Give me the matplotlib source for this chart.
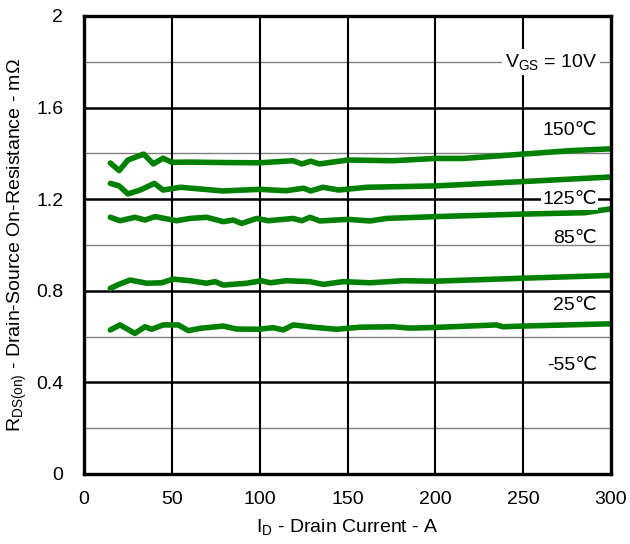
import matplotlib
matplotlib.use("Agg")
import matplotlib.pyplot as plt

plt.rcParams['font.family'] = ['Liberation Sans', 'DejaVu Sans']
plt.rcParams['mathtext.default'] = 'regular'

# Data (I_D in A, R_DS(on) in mOhm)
x_150 = [15, 20, 25, 34, 39.5, 45, 50, 60, 80, 100, 119, 124, 129, 134, 150, 176, 200, 216, 250, 277, 300]
y_150 = [1.358, 1.325, 1.371, 1.397, 1.354, 1.379, 1.361, 1.362, 1.360, 1.359, 1.368, 1.354, 1.366, 1.354, 1.371, 1.368, 1.378, 1.378, 1.397, 1.412, 1.420]

x_125 = [15, 20, 25, 32, 40, 45, 55, 79, 100, 115, 125, 129, 136, 145, 161, 200, 250, 300]
y_125 = [1.269, 1.258, 1.223, 1.240, 1.269, 1.240, 1.252, 1.236, 1.243, 1.237, 1.248, 1.236, 1.252, 1.240, 1.252, 1.258, 1.277, 1.297]

x_85 = [15, 20.5, 29, 34.7, 40.4, 52.7, 60.3, 69.8, 79.3, 85, 89.7, 98.3, 105, 119, 124, 128.6, 134.3, 150.4, 162.8, 172.2, 200, 250, 285, 300]
y_85 = [1.121, 1.106, 1.121, 1.109, 1.124, 1.106, 1.116, 1.121, 1.102, 1.109, 1.094, 1.116, 1.106, 1.116, 1.106, 1.121, 1.105, 1.112, 1.105, 1.116, 1.124, 1.135, 1.141, 1.158]

x_25 = [15, 20.5, 26.2, 35.7, 44.2, 50.8, 60.3, 69.8, 74.6, 79.3, 92.6, 101, 106, 115.3, 128.6, 136.2, 147.6, 162.8, 181.7, 200, 250, 300]
y_25 = [0.811, 0.830, 0.847, 0.833, 0.835, 0.851, 0.844, 0.833, 0.840, 0.825, 0.833, 0.844, 0.835, 0.844, 0.840, 0.828, 0.840, 0.835, 0.844, 0.842, 0.855, 0.867]

x_m55 = [15, 20.5, 29, 34.7, 38.5, 45.1, 53.7, 59.4, 66, 79.3, 86.9, 99.2, 107.8, 113.4, 119.1, 130.5, 143.8, 157.1, 176, 185.6, 200, 234.8, 238.5, 250, 300]
y_m55 = [0.629, 0.651, 0.614, 0.643, 0.632, 0.651, 0.651, 0.626, 0.636, 0.646, 0.633, 0.632, 0.639, 0.629, 0.651, 0.641, 0.632, 0.641, 0.643, 0.637, 0.640, 0.651, 0.643, 0.646, 0.656]

series = [(x_150, y_150), (x_125, y_125), (x_85, y_85), (x_25, y_25), (x_m55, y_m55)]
curve_labels = ["150℃", "125℃", "85℃", "25℃", "-55℃"]
label_y = [1.50, 1.197, 1.03, 0.734, 0.472]

x_ticks = [0, 50, 100, 150, 200, 250, 300]
y_ticks = [0, 0.4, 0.8, 1.2, 1.6, 2.0]
y_tick_labels = ["0", "0.4", "0.8", "1.2", "1.6", "2"]
y_minor = [0.2, 0.6, 1.0, 1.4, 1.8]

fig = plt.figure(figsize=(6.3, 5.44), dpi=100)
ax = fig.add_axes([84/630, 70/544, (611-84)/630, (474-16)/544])

ax.set_xlim(0, 300)
ax.set_ylim(0, 2)

for v in y_minor:
    ax.axhline(v, color='#808080', lw=1.0, zorder=1)
for v in y_ticks[1:-1]:
    ax.axhline(v, color='black', lw=1.8, zorder=1)
for v in x_ticks[1:-1]:
    ax.axvline(v, color='black', lw=1.5, zorder=1)

for xs, ys in series:
    ax.plot(xs, ys, color='#008000', lw=4.0, solid_capstyle='round', solid_joinstyle='round', zorder=3)

fs = 14
for lab, yv in zip(curve_labels, label_y):
    bb = dict(facecolor='white', edgecolor='none', pad=1.0) if lab == "125℃" else None
    ax.text(292, yv, lab, ha='right', va='center', fontsize=fs, bbox=bb, zorder=4)

ax.text(292, 1.8, "V$_{GS}$ = 10V", ha='right', va='center', fontsize=fs,
        bbox=dict(facecolor='white', edgecolor='none', pad=2.0), zorder=4)

ax.set_xticks(x_ticks)
ax.set_xticklabels([str(v) for v in x_ticks])
ax.set_yticks(y_ticks)
ax.set_yticklabels(y_tick_labels)
ax.tick_params(axis='x', length=0, pad=12, labelsize=fs)
ax.tick_params(axis='y', length=0, pad=15, labelsize=fs)

for s in ax.spines.values():
    s.set_linewidth(2.4)
    s.set_color('black')
    s.set_zorder(5)

ax.set_xlabel("I$_{D}$ - Drain Current - A", fontsize=fs, labelpad=7)
ax.set_ylabel("R$_{DS(on)}$ - Drain-Source On-Resistance - mΩ", fontsize=fs, labelpad=5)

fig.savefig("out.png", dpi=100)
